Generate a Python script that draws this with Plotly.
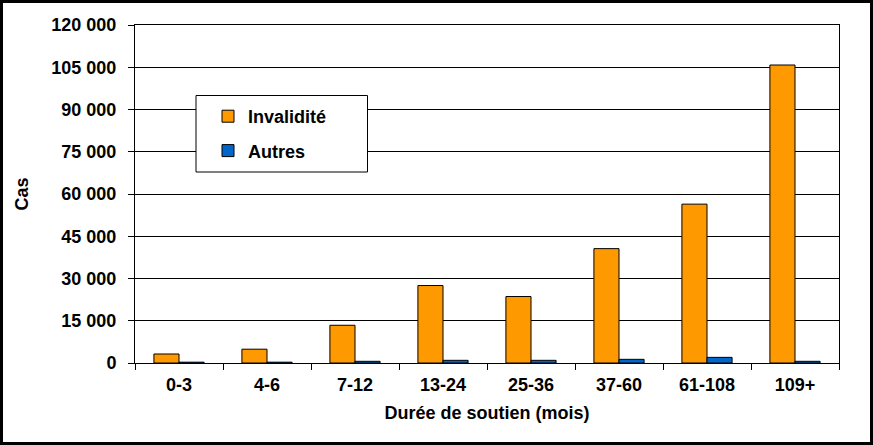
import plotly.graph_objects as go

categories = ["0-3", "4-6", "7-12", "13-24", "25-36", "37-60", "61-108", "109+"]
invalidite = [3200, 4900, 13400, 27500, 23600, 40600, 56400, 105800]
autres = [300, 300, 600, 950, 950, 1300, 2000, 600]
y_tickvals = [0, 15000, 30000, 45000, 60000, 75000, 90000, 105000, 120000]
y_ticktext = ["0", "15 000", "30 000", "45 000", "60 000", "75 000", "90 000", "105 000", "120 000"]

FONT = "Liberation Sans, Arial, sans-serif"
FS = 18

fig = go.Figure()
fig.add_trace(go.Bar(
    name="Invalidité", x=categories, y=invalidite,
    marker=dict(color="#FF9900", line=dict(color="black", width=1)),
    legendgroup="a",
))
fig.add_trace(go.Bar(
    name="Autres", x=categories, y=autres,
    marker=dict(color="#0066CC", line=dict(color="black", width=1)),
    legendgroup="b",
))

W, H = 873, 445
L, R, T, B = 135, 34, 25, 82
PW, PH = W - L - R, H - T - B


def px_x(p):
    return (p - L) / PW


def px_y(p):
    return (H - B - p) / PH


shapes = [
    # legend box
    dict(type="rect", xref="paper", yref="paper",
         x0=px_x(196), x1=px_x(367.5), y0=px_y(172), y1=px_y(95.5),
         fillcolor="white", line=dict(color="black", width=1), layer="above"),
    # outer border
    dict(type="rect", xref="paper", yref="paper",
         x0=px_x(1.5), x1=px_x(871.5), y0=px_y(443.5), y1=px_y(1.5),
         fillcolor="rgba(0,0,0,0)", line=dict(color="black", width=3), layer="above"),
]

bold = dict(family=FONT, size=FS, color="black", weight="bold")

fig.update_layout(
    width=W, height=H,
    margin=dict(l=L, r=R, t=T, b=B),
    paper_bgcolor="white", plot_bgcolor="white",
    font=dict(family=FONT, size=FS, color="black"),
    barmode="group", bargap=0.43, bargroupgap=0,
    showlegend=True,
    legend=dict(
        x=px_x(208), y=px_y(98), xanchor="left", yanchor="top",
        bgcolor="rgba(0,0,0,0)", borderwidth=0,
        font=bold,
        tracegroupgap=8, traceorder="grouped", itemwidth=30,
    ),
    shapes=shapes,
    xaxis=dict(
        type="category",
        showline=True, linecolor="black", linewidth=1, mirror=True,
        ticks="outside", tickson="boundaries", ticklen=6, tickcolor="black",
        ticklabelstandoff=5,
        tickfont=bold,
        title=dict(text="Durée de soutien (mois)", font=bold, standoff=12),
        showgrid=False,
    ),
    yaxis=dict(
        range=[0, 120000],
        tickvals=y_tickvals, ticktext=y_ticktext,
        showline=True, linecolor="black", linewidth=1, mirror=True,
        ticks="outside", ticklen=6, tickcolor="black",
        ticklabelstandoff=8,
        tickfont=bold,
        showgrid=True, gridcolor="black", gridwidth=1,
        zeroline=False,
        title=dict(text="Cas", font=bold, standoff=18),
    ),
)

fig.write_html(
    "out.html",
    config={"displayModeBar": False},
    post_script="document.body.style.margin='0';",
)
